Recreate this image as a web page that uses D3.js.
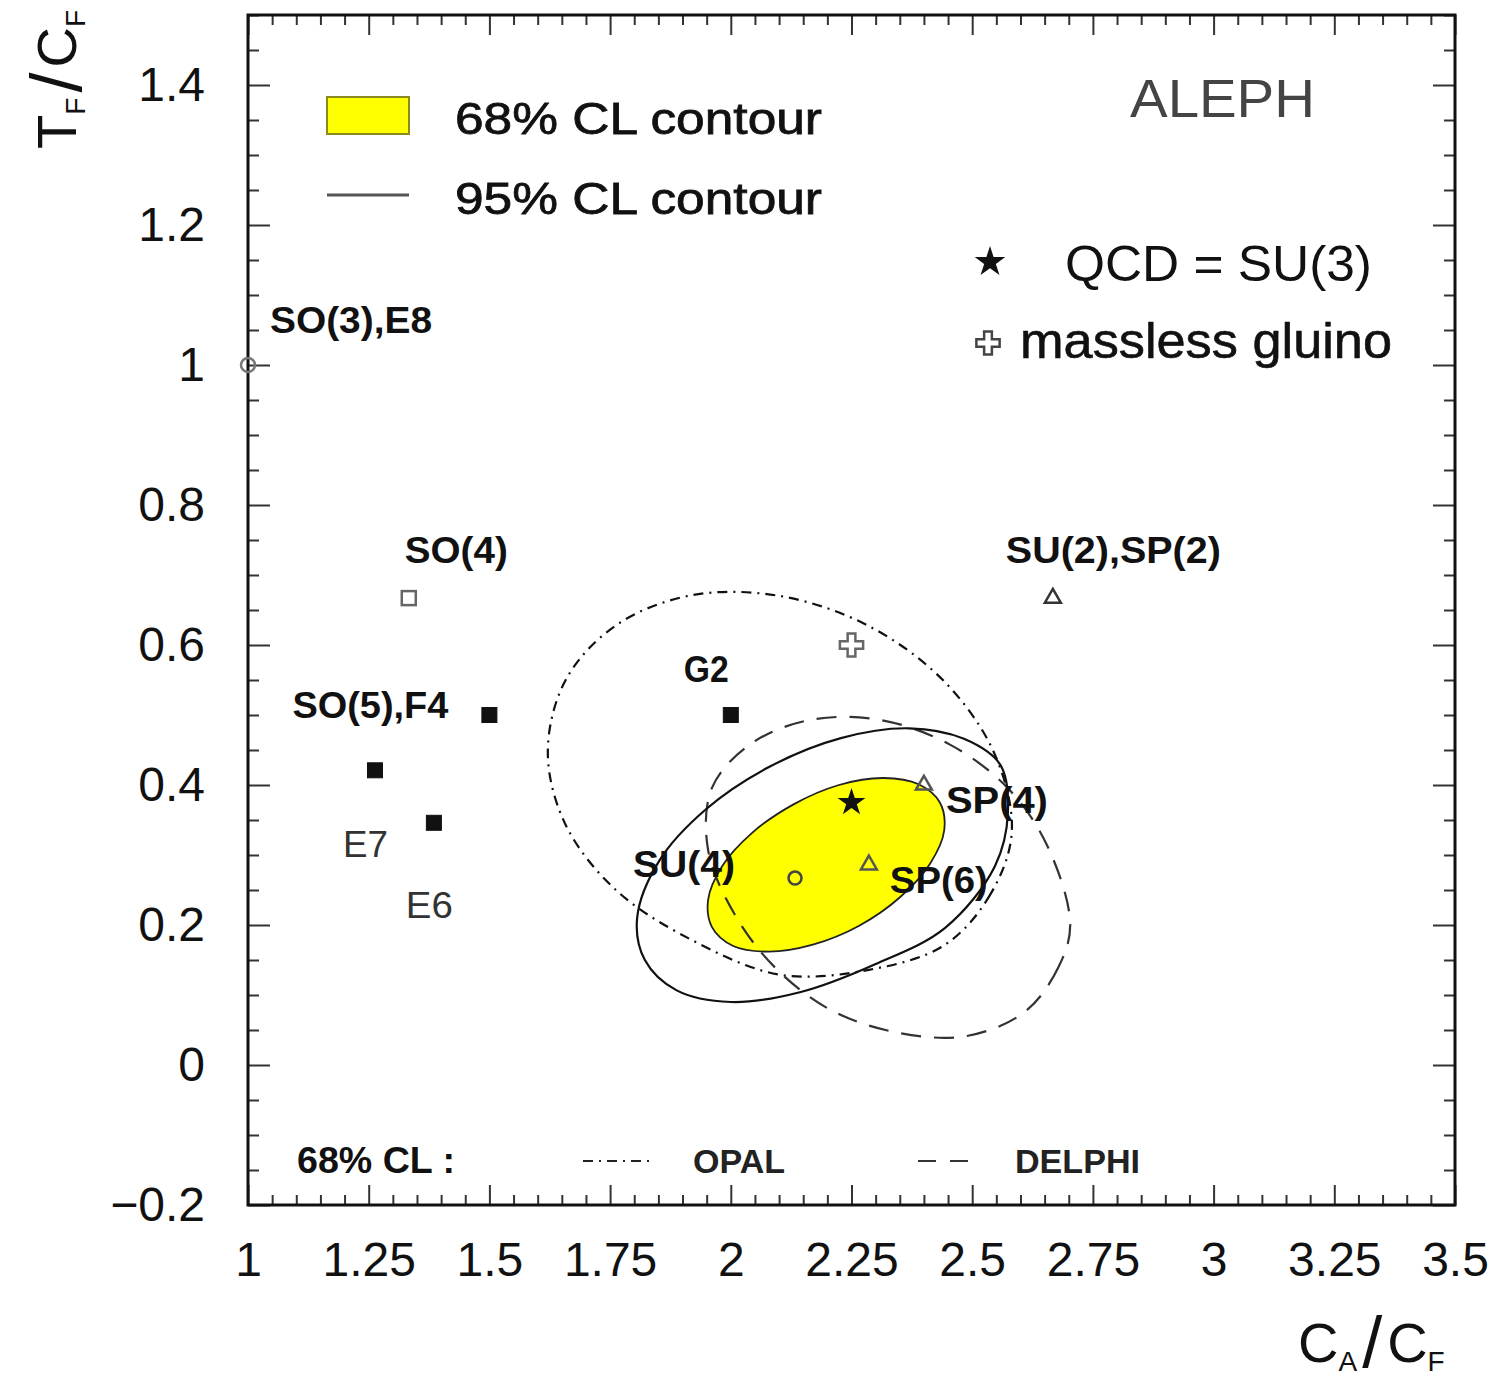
<!DOCTYPE html>
<html>
<head>
<meta charset="utf-8">
<script src="https://cdn.jsdelivr.net/npm/d3@7"></script>
<style>
  html, body { margin: 0; padding: 0; background: #fff; }
  svg { display: block; }
  text { font-family: "Liberation Sans", Arial, Helvetica, sans-serif; }
</style>
</head>
<body>
<svg id="chart" width="1496" height="1390"></svg>
<script>
// ---------------- data ----------------
// axis ticks
const xTicks = [1, 1.25, 1.5, 1.75, 2, 2.25, 2.5, 2.75, 3, 3.25, 3.5];
const xTickLabels = ["1", "1.25", "1.5", "1.75", "2", "2.25", "2.5", "2.75", "3", "3.25", "3.5"];
const yTicks = [-0.2, 0, 0.2, 0.4, 0.6, 0.8, 1, 1.2, 1.4];
const yTickLabels = ["\u22120.2", "0", "0.2", "0.4", "0.6", "0.8", "1", "1.2", "1.4"];

// gauge groups: colour factor ratios C_A/C_F and T_F/C_F
const groupNames = ["SO(3),E8", "SO(4)", "SO(5),F4", "E7", "E6", "G2", "SU(2),SP(2)", "SU(4)", "SP(6)", "SP(4)"];
const groupCA = [1.0, 1.333, 1.5, 1.263, 1.385, 2.0, 2.667, 2.133, 2.286, 2.4];
const groupTF = [1.0, 0.667, 0.5, 0.421, 0.346, 0.5, 0.667, 0.267, 0.286, 0.4];

// QCD and the massless-gluino scenario
const qcdCA = 2.25, qcdTF = 0.375;
const gluinoCA = 2.25, gluinoTF = 0.6;

// ALEPH 68% CL contour
const aleph68CA = [2.433, 2.442, 2.413, 2.351, 2.266, 2.170, 2.079, 2.005, 1.961, 1.953, 1.982, 2.043, 2.129, 2.224, 2.316, 2.389];
const aleph68TF = [0.375, 0.335, 0.288, 0.240, 0.199, 0.172, 0.162, 0.170, 0.197, 0.236, 0.284, 0.331, 0.372, 0.400, 0.410, 0.401];
// ALEPH 95% CL contour
const aleph95CA = [2.558, 2.574, 2.547, 2.444, 2.299, 2.143, 2.000, 1.887, 1.822, 1.806, 1.852, 1.948, 2.080, 2.228, 2.369, 2.483];
const aleph95TF = [0.429, 0.361, 0.284, 0.196, 0.144, 0.104, 0.090, 0.107, 0.150, 0.210, 0.292, 0.365, 0.426, 0.467, 0.481, 0.466];
// OPAL 68% CL contour
const opalCA = [2.582, 2.537, 2.442, 2.286, 2.102, 1.918, 1.762, 1.658, 1.621, 1.658, 1.762, 1.918, 2.102, 2.286, 2.442, 2.546];
const opalTF = [0.333, 0.243, 0.171, 0.136, 0.129, 0.179, 0.250, 0.343, 0.447, 0.550, 0.628, 0.671, 0.670, 0.627, 0.548, 0.445];
// DELPHI 68% CL contour
const delphiCA = [2.703, 2.678, 2.609, 2.485, 2.340, 2.206, 2.092, 2.009, 1.953, 1.961, 2.042, 2.165, 2.309, 2.453, 2.576, 2.657];
const delphiTF = [0.200, 0.139, 0.076, 0.041, 0.047, 0.079, 0.139, 0.214, 0.307, 0.396, 0.459, 0.493, 0.493, 0.458, 0.394, 0.311];

// ---------------- layout & styles ----------------
const markerStyle = {
  "SO(3),E8":    { kind: "circle",   r: 7,   stroke: "#777" },
  "SO(4)":       { kind: "square",   open: true },
  "SO(5),F4":    { kind: "square" },
  "E7":          { kind: "square" },
  "E6":          { kind: "square" },
  "G2":          { kind: "square" },
  "SU(2),SP(2)": { kind: "triangle", stroke: "#333" },
  "SU(4)":       { kind: "circle",   r: 6.5, stroke: "#444" },
  "SP(6)":       { kind: "triangle", stroke: "#555" },
  "SP(4)":       { kind: "triangle", stroke: "#555" }
};
// label placement relative to the marker (px) and rendered width
const labelLayout = {
  "SO(3),E8":    { dx: 22,   dy: -32, w: 162 },
  "SO(4)":       { dx: -4,   dy: -35, w: 103 },
  "SO(5),F4":    { dx: -197, dy: 3,   w: 156 },
  "E7":          { dx: -32,  dy: 87,  w: 45, light: true },
  "E6":          { dx: -28,  dy: 95,  w: 47, light: true },
  "G2":          { dx: -47,  dy: -33, w: 45 },
  "SU(2),SP(2)": { dx: -47,  dy: -35, w: 215 },
  "SU(4)":       { dx: -162, dy: -1,  w: 102 },
  "SP(6)":       { dx: 21,   dy: 28,  w: 98 },
  "SP(4)":       { dx: 22,   dy: 28,  w: 102 }
};

const W = 1496, H = 1390;
const frame = { left: 248, right: 1455, top: 15, bottom: 1205 };

const svg = d3.select("#chart");
svg.append("rect").attr("width", W).attr("height", H).attr("fill", "#fff");

const x = d3.scaleLinear().domain([1, 3.5]).range([frame.left, frame.right]);
const y = d3.scaleLinear().domain([-0.2, 1.5]).range([frame.bottom, frame.top]);

// ---------------- axes ----------------
const minorX = d3.range(0, 51).map(i => +(1 + i * 0.05).toFixed(2)).filter(v => !xTicks.includes(v));
const minorY = d3.range(0, 35).map(i => +(-0.2 + i * 0.05).toFixed(2)).filter(v => !yTicks.includes(v));

function styleAxis(g) {
  g.select(".domain").remove();
  g.selectAll(".tick line").attr("stroke", "#333").attr("stroke-width", 2);
  g.selectAll(".tick text").attr("fill", "#111").attr("font-size", 48)
    .attr("font-family", "'Liberation Sans', Arial, sans-serif");
}

// bottom
svg.append("g").attr("transform", `translate(0,${frame.bottom})`)
  .call(d3.axisBottom(x).tickValues(xTicks).tickFormat((d, i) => xTickLabels[i])
    .tickSizeInner(-20).tickSizeOuter(0).tickPadding(37))
  .call(styleAxis);
svg.append("g").attr("transform", `translate(0,${frame.bottom})`)
  .call(d3.axisBottom(x).tickValues(minorX).tickFormat("").tickSizeInner(-10).tickSizeOuter(0))
  .call(styleAxis);
// top
svg.append("g").attr("transform", `translate(0,${frame.top})`)
  .call(d3.axisTop(x).tickValues(xTicks).tickFormat("").tickSizeInner(-20).tickSizeOuter(0))
  .call(styleAxis);
svg.append("g").attr("transform", `translate(0,${frame.top})`)
  .call(d3.axisTop(x).tickValues(minorX).tickFormat("").tickSizeInner(-10).tickSizeOuter(0))
  .call(styleAxis);
// left
svg.append("g").attr("transform", `translate(${frame.left},0)`)
  .call(d3.axisLeft(y).tickValues(yTicks).tickFormat((d, i) => yTickLabels[i])
    .tickSizeInner(-22).tickSizeOuter(0).tickPadding(43))
  .call(styleAxis);
svg.append("g").attr("transform", `translate(${frame.left},0)`)
  .call(d3.axisLeft(y).tickValues(minorY).tickFormat("").tickSizeInner(-11).tickSizeOuter(0))
  .call(styleAxis);
// right
svg.append("g").attr("transform", `translate(${frame.right},0)`)
  .call(d3.axisRight(y).tickValues(yTicks).tickFormat("").tickSizeInner(-22).tickSizeOuter(0))
  .call(styleAxis);
svg.append("g").attr("transform", `translate(${frame.right},0)`)
  .call(d3.axisRight(y).tickValues(minorY).tickFormat("").tickSizeInner(-11).tickSizeOuter(0))
  .call(styleAxis);

// frame
svg.append("rect")
  .attr("x", frame.left).attr("y", frame.top)
  .attr("width", frame.right - frame.left).attr("height", frame.bottom - frame.top)
  .attr("fill", "none").attr("stroke", "#111").attr("stroke-width", 3);

// axis titles: C_A/C_F and T_F/C_F
function ratioTitle(sel, a, aSub, b, bSub) {
  sel.append("tspan").attr("font-size", 56).text(a);
  sel.append("tspan").attr("font-size", 28).attr("dy", 9).text(aSub);
  sel.append("tspan").attr("font-size", 72).attr("dx", 5).attr("dy", -4).attr("font-weight", 300).text("/");
  sel.append("tspan").attr("font-size", 56).attr("dx", 5).attr("dy", -5).text(b);
  sel.append("tspan").attr("font-size", 28).attr("dy", 9).text(bSub);
}
const xt = svg.append("text").attr("x", 1298).attr("y", 1362).attr("fill", "#111");
ratioTitle(xt, "C", "A", "C", "F");
const yt = svg.append("text").attr("transform", "translate(76,10) rotate(-90)")
  .attr("text-anchor", "end").attr("fill", "#111");
ratioTitle(yt, "T", "F", "C", "F");

// ---------------- contours ----------------
const zip = (a, b) => a.map((v, i) => [v, b[i]]);
const closedCurve = d3.line().x(d => x(d[0])).y(d => y(d[1])).curve(d3.curveCatmullRomClosed.alpha(0.5));

const plot = svg.append("g");

plot.append("path").attr("d", closedCurve(zip(aleph68CA, aleph68TF)))
  .attr("fill", "#ffff00").attr("stroke", "#222").attr("stroke-width", 1.8);

plot.append("path").attr("d", closedCurve(zip(opalCA, opalTF)))
  .attr("fill", "none").attr("stroke", "#111").attr("stroke-width", 2.2)
  .attr("stroke-dasharray", "10,6,2,6");

plot.append("path").attr("d", closedCurve(zip(delphiCA, delphiTF)))
  .attr("fill", "none").attr("stroke", "#333").attr("stroke-width", 2.2)
  .attr("stroke-dasharray", "20,13");

plot.append("path").attr("d", closedCurve(zip(aleph95CA, aleph95TF)))
  .attr("fill", "none").attr("stroke", "#111").attr("stroke-width", 2.2);

// ---------------- group markers ----------------
groupNames.forEach((name, i) => {
  const px = x(groupCA[i]), py = y(groupTF[i]);
  const st = markerStyle[name];
  if (st.kind === "square") {
    const s = st.open ? 14 : 15;
    plot.append("rect").attr("x", px - s / 2).attr("y", py - s / 2).attr("width", s).attr("height", s)
      .attr("fill", st.open ? "none" : "#111")
      .attr("stroke", st.open ? "#666" : "#111").attr("stroke-width", st.open ? 2.5 : 1);
  } else if (st.kind === "circle") {
    plot.append("circle").attr("cx", px).attr("cy", py).attr("r", st.r)
      .attr("fill", "none").attr("stroke", st.stroke).attr("stroke-width", 2.5);
  } else {
    plot.append("path").attr("transform", `translate(${px},${py})`)
      .attr("d", d3.symbol(d3.symbolTriangle, 110)())
      .attr("fill", "none").attr("stroke", st.stroke).attr("stroke-width", 2.5);
  }
  const lb = labelLayout[name];
  plot.append("text").attr("x", px + lb.dx).attr("y", py + lb.dy)
    .attr("font-size", 36).attr("font-weight", lb.light ? "normal" : "bold")
    .attr("fill", lb.light ? "#333" : "#111")
    .attr("textLength", lb.w).attr("lengthAdjust", "spacingAndGlyphs")
    .text(name);
});

// QCD star and massless gluino cross
plot.append("path").attr("transform", `translate(${x(qcdCA)},${y(qcdTF)})`)
  .attr("d", d3.symbol(d3.symbolStar, 240)()).attr("fill", "#111");
plot.append("path").attr("transform", `translate(${x(gluinoCA)},${y(gluinoTF)})`)
  .attr("d", d3.symbol(d3.symbolCross, 300)())
  .attr("fill", "#fff").attr("stroke", "#666").attr("stroke-width", 2.5);

// ---------------- legends ----------------
const leg = svg.append("g");
leg.append("rect").attr("x", 327).attr("y", 97).attr("width", 82).attr("height", 37)
  .attr("fill", "#ffff00").attr("stroke", "#8a8a20").attr("stroke-width", 2);
leg.append("text").attr("x", 455).attr("y", 134).attr("font-size", 45).attr("fill", "#111")
  .attr("stroke", "#111").attr("stroke-width", 0.8)
  .attr("textLength", 367).attr("lengthAdjust", "spacingAndGlyphs").text("68% CL contour");
leg.append("line").attr("x1", 327).attr("x2", 409).attr("y1", 195).attr("y2", 195)
  .attr("stroke", "#555").attr("stroke-width", 3);
leg.append("text").attr("x", 455).attr("y", 214).attr("font-size", 45).attr("fill", "#111")
  .attr("stroke", "#111").attr("stroke-width", 0.8)
  .attr("textLength", 367).attr("lengthAdjust", "spacingAndGlyphs").text("95% CL contour");

leg.append("text").attr("x", 1130).attr("y", 117).attr("font-size", 54)
  .attr("font-family", "Lato, 'Liberation Sans', sans-serif").attr("font-weight", 300)
  .attr("fill", "#444").attr("textLength", 185).attr("lengthAdjust", "spacingAndGlyphs").text("ALEPH");

leg.append("path").attr("transform", "translate(990,262)")
  .attr("d", d3.symbol(d3.symbolStar, 290)()).attr("fill", "#111");
leg.append("text").attr("x", 1065).attr("y", 281).attr("font-size", 50).attr("fill", "#111")
  .attr("textLength", 307).attr("lengthAdjust", "spacingAndGlyphs").text("QCD = SU(3)");
leg.append("path").attr("transform", "translate(988,343)")
  .attr("d", d3.symbol(d3.symbolCross, 300)())
  .attr("fill", "#fff").attr("stroke", "#444").attr("stroke-width", 2.5);
leg.append("text").attr("x", 1020).attr("y", 358).attr("font-size", 50).attr("fill", "#111")
  .attr("stroke", "#111").attr("stroke-width", 0.6)
  .attr("textLength", 372).attr("lengthAdjust", "spacingAndGlyphs").text("massless gluino");

// bottom legend for the other experiments
leg.append("text").attr("x", 297).attr("y", 1173).attr("font-size", 36).attr("font-weight", "bold")
  .attr("fill", "#111").attr("textLength", 158).attr("lengthAdjust", "spacingAndGlyphs").text("68% CL :");
leg.append("line").attr("x1", 583).attr("x2", 650).attr("y1", 1161).attr("y2", 1161)
  .attr("stroke", "#222").attr("stroke-width", 2.2).attr("stroke-dasharray", "10,6,2,6");
leg.append("text").attr("x", 693).attr("y", 1173).attr("font-size", 34).attr("font-weight", "bold")
  .attr("fill", "#222").attr("textLength", 92).attr("lengthAdjust", "spacingAndGlyphs").text("OPAL");
leg.append("line").attr("x1", 918).attr("x2", 972).attr("y1", 1161).attr("y2", 1161)
  .attr("stroke", "#333").attr("stroke-width", 2.2).attr("stroke-dasharray", "18,14");
leg.append("text").attr("x", 1015).attr("y", 1173).attr("font-size", 34).attr("font-weight", "bold")
  .attr("fill", "#222").attr("textLength", 125).attr("lengthAdjust", "spacingAndGlyphs").text("DELPHI");
</script>
</body>
</html>
